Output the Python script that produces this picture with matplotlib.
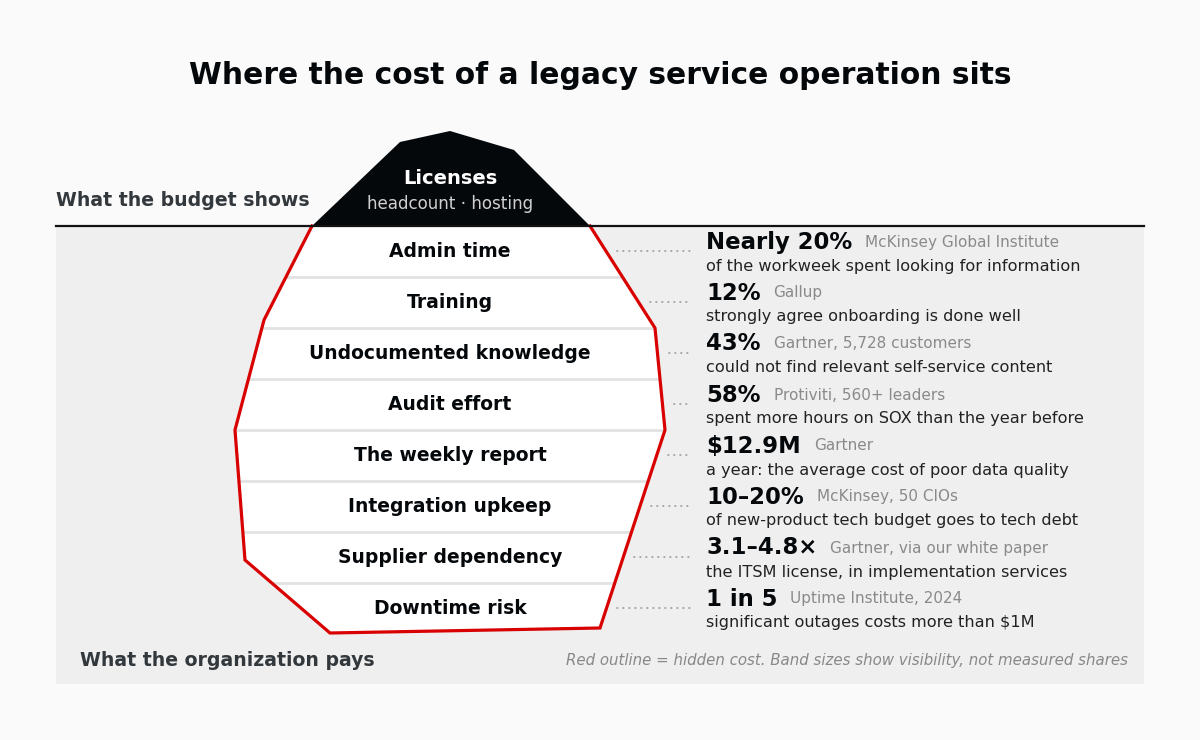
import numpy as np
import matplotlib
matplotlib.use("Agg")
import matplotlib.pyplot as plt
from matplotlib.patches import Polygon, Rectangle

# band labels (top to bottom, below the waterline)
bands = ["Admin time", "Training", "Undocumented knowledge", "Audit effort",
         "The weekly report", "Integration upkeep", "Supplier dependency", "Downtime risk"]
figures = ["Nearly 20%", "12%", "43%", "58%", "$12.9M", "10–20%", "3.1–4.8×", "1 in 5"]
sources = ["McKinsey Global Institute", "Gallup", "Gartner, 5,728 customers",
           "Protiviti, 560+ leaders", "Gartner", "McKinsey, 50 CIOs",
           "Gartner, via our white paper", "Uptime Institute, 2024"]
notes = ["of the workweek spent looking for information",
         "strongly agree onboarding is done well",
         "could not find relevant self-service content",
         "spent more hours on SOX than the year before",
         "a year: the average cost of poor data quality",
         "of new-product tech budget goes to tech debt",
         "the ITSM license, in implementation services",
         "significant outages costs more than $1M"]

# iceberg outline (pixel space)
tip = [(312, 226), (400, 142), (450, 131), (514, 150), (590, 226)]
hidden = [(312, 226), (590, 226), (655, 328), (665, 430), (600, 628),
          (330, 633), (245, 560), (235, 430), (264, 320)]
right_edge = np.array([(590, 226), (655, 328), (665, 430), (600, 628)])

W, H = 1200, 740
water = 226
band_h = 51

plt.rcParams['font.family'] = ['DejaVu Sans']
fig = plt.figure(figsize=(12, 7.4), dpi=100, facecolor="#fafafa")
ax = fig.add_axes([0, 0, 1, 1])
ax.set_xlim(0, W)
ax.set_ylim(H, 0)
ax.axis("off")

# underwater panel
ax.add_patch(Rectangle((56, water), 1088, 684 - water, facecolor="#efefef", edgecolor="none", zorder=0))

# hidden part of iceberg
body = Polygon(hidden, closed=True, facecolor="white", edgecolor="none", zorder=1)
ax.add_patch(body)
for i in range(1, len(bands)):
    ln, = ax.plot([200, 700], [water + i * band_h] * 2, color="#e2e2e2", lw=2, zorder=2)
    ln.set_clip_path(body)
outline = hidden[1:] + [hidden[0]]
ox, oy = zip(*outline)
ax.plot(ox, oy, color="#d90000", lw=2.3, zorder=3, solid_joinstyle="miter")

# visible tip
ax.add_patch(Polygon(tip, closed=True, facecolor="#05080b", edgecolor="none", zorder=4))
ax.text(450, 179, "Licenses", color="white", fontsize=14, fontweight="bold", ha="center", va="center", zorder=5)
ax.text(450, 204, "headcount · hosting", color="#d0d0d0", fontsize=12.1, ha="center", va="center", zorder=5)

# waterline
ax.plot([56, 1144], [water, water], color="#111111", lw=1.6, zorder=5)

ax.text(600, 75, "Where the cost of a legacy service operation sits", fontsize=21.4,
        fontweight="bold", ha="center", va="center", color="#05080b")
ax.text(56, 201, "What the budget shows", fontsize=13.6, fontweight="bold", color="#33383d", va="center")
ax.text(80, 661, "What the organization pays", fontsize=13.6, fontweight="bold", color="#33383d", va="center")
ax.text(1128, 661, "Red outline = hidden cost. Band sizes show visibility, not measured shares",
        fontsize=10.8, style="italic", color="#888888", ha="right", va="center")

fig.canvas.draw()
renderer = fig.canvas.get_renderer()
inv = ax.transData.inverted()

for i, lab in enumerate(bands):
    yc = water + band_h * (i + 0.5)
    ax.text(450, yc, lab, fontsize=13.5, fontweight="bold", ha="center", va="center", color="#05080b", zorder=5)

    # dotted leader from the outline to the stat
    edge_x = np.interp(yc, right_edge[:, 1], right_edge[:, 0])
    ax.plot([edge_x + 11, 690], [yc - 1, yc - 1], color="#9a9a9a", lw=1.2,
            linestyle=(0, (0.4, 3.2)), dash_capstyle="round", zorder=2)

    ny = 242 + band_h * i
    t = ax.text(706, ny, figures[i], fontsize=16.4, fontweight="bold", color="#05080b", va="center")
    bb = t.get_window_extent(renderer)
    x1 = inv.transform((bb.x1, 0))[0]
    ax.text(x1 + 13, ny, sources[i], fontsize=11, color="#8a8a8a", va="center")
    ax.text(706, ny + 24, notes[i], fontsize=11.6, color="#222222", va="center")

fig.savefig("out.png", dpi=100, facecolor=fig.get_facecolor())
